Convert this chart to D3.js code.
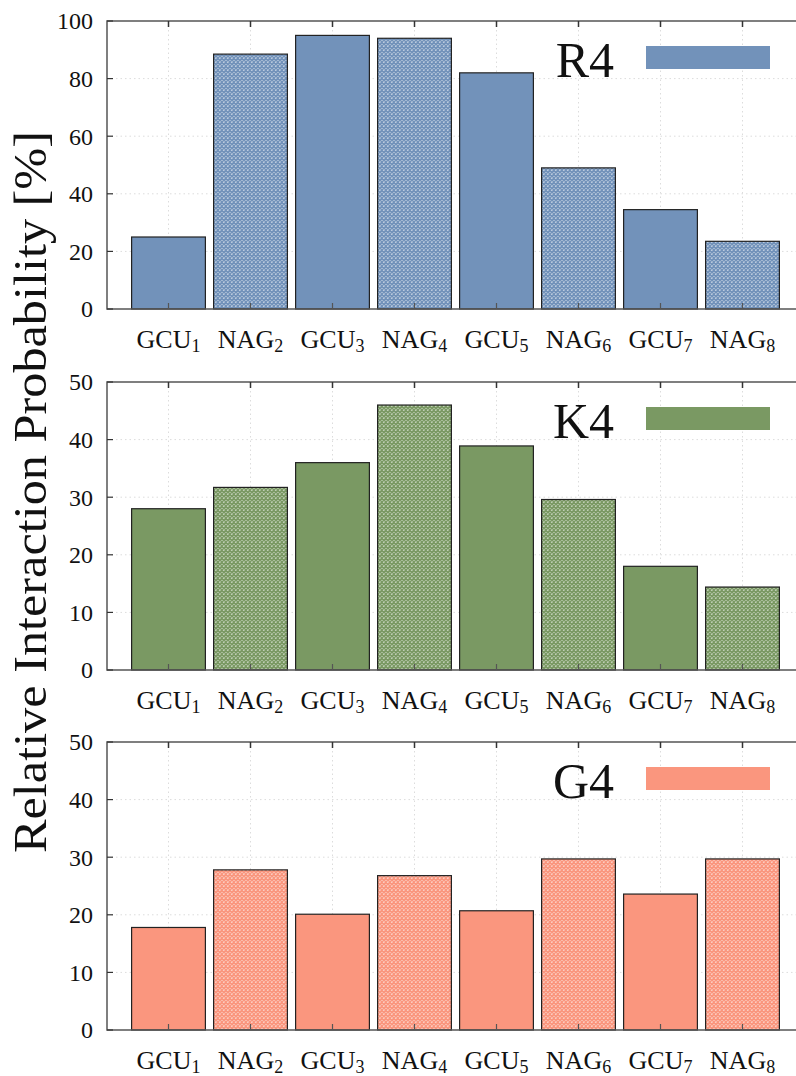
<!DOCTYPE html>
<html>
<head>
<meta charset="utf-8">
<script src="https://cdn.jsdelivr.net/npm/d3@7"></script>
<style>
  body { margin: 0; background: #fff; }
  text { font-family: "Liberation Serif", "DejaVu Serif", serif; fill: #111; }
</style>
</head>
<body>
<svg id="chart"></svg>
<script>
const categories = ["GCU", "NAG", "GCU", "NAG", "GCU", "NAG", "GCU", "NAG"];
const subscripts = ["1", "2", "3", "4", "5", "6", "7", "8"];
const r4Values = [25, 88.5, 95, 94, 82, 49, 34.5, 23.5];
const k4Values = [28, 31.7, 36, 46, 38.9, 29.6, 18, 14.4];
const g4Values = [17.8, 27.8, 20.1, 26.8, 20.7, 29.7, 23.6, 29.7];
const r4Ticks = [0, 20, 40, 60, 80, 100];
const k4Ticks = [0, 10, 20, 30, 40, 50];
const g4Ticks = [0, 10, 20, 30, 40, 50];

const panels = [
  {name: "R4", values: r4Values, ticks: r4Ticks, max: 100, color: "#7292ba", top: 21},
  {name: "K4", values: k4Values, ticks: k4Ticks, max: 50, color: "#7a9963", top: 382},
  {name: "G4", values: g4Values, ticks: g4Ticks, max: 50, color: "#fa967e", top: 742}
];

const W = 796, H = 1076;
const plotLeft = 107, plotRight = 804, plotH = 288;

const svg = d3.select("#chart").attr("width", W).attr("height", H);
const defs = svg.append("defs");

const x = d3.scaleLinear().domain([-0.75, 7.75]).range([plotLeft, plotRight]);
const barW = x(0.9) - x(0);

panels.forEach((p, pi) => {
  // crosshatch pattern
  const pat = defs.append("pattern")
    .attr("id", "hatch" + pi)
    .attr("patternUnits", "userSpaceOnUse")
    .attr("width", 4).attr("height", 4);
  pat.append("rect").attr("width", 4).attr("height", 4).attr("fill", "#fff");
  pat.append("path")
    .attr("d", "M0,0L4,4M4,0L0,4M-1,3L1,5M3,-1L5,1M-1,1L1,-1M3,5L5,3")
    .attr("stroke", p.color).attr("stroke-width", 1.6);

  const y = d3.scaleLinear().domain([0, p.max]).range([p.top + plotH, p.top]);
  const g = svg.append("g");

  // grid
  g.selectAll(".hgrid").data(p.ticks.slice(1, -1)).join("line")
    .attr("x1", plotLeft).attr("x2", plotRight)
    .attr("y1", d => y(d)).attr("y2", d => y(d))
    .attr("stroke", "#dcdcdc").attr("stroke-dasharray", "1.5,3");
  g.selectAll(".vgrid").data(d3.range(8)).join("line")
    .attr("x1", d => x(d)).attr("x2", d => x(d))
    .attr("y1", p.top).attr("y2", p.top + plotH)
    .attr("stroke", "#dcdcdc").attr("stroke-dasharray", "1.5,3");

  // bars
  g.selectAll(".bar").data(p.values).join("rect")
    .attr("x", (d, i) => x(i) - barW / 2)
    .attr("y", d => y(d))
    .attr("width", barW)
    .attr("height", d => y(0) - y(d))
    .attr("fill", (d, i) => i % 2 === 0 ? p.color : "url(#hatch" + pi + ")")
    .attr("stroke", "#222").attr("stroke-width", 1.2);

  // frame
  g.append("path")
    .attr("d", `M${plotRight},${p.top}H${plotLeft}V${p.top + plotH}H${plotRight}`)
    .attr("fill", "none").attr("stroke", "#555").attr("stroke-width", 1.5);

  // ticks
  g.selectAll(".ytick").data(p.ticks).join("line")
    .attr("x1", plotLeft).attr("x2", plotLeft + 6)
    .attr("y1", d => y(d)).attr("y2", d => y(d))
    .attr("stroke", "#333").attr("stroke-width", 1.2);
  g.selectAll(".xtickb").data(d3.range(8)).join("line")
    .attr("x1", d => x(d)).attr("x2", d => x(d))
    .attr("y1", p.top + plotH).attr("y2", p.top + plotH - 6)
    .attr("stroke", "#555").attr("stroke-width", 1.2);
  g.selectAll(".xtickt").data(d3.range(8)).join("line")
    .attr("x1", d => x(d)).attr("x2", d => x(d))
    .attr("y1", p.top).attr("y2", p.top + 6)
    .attr("stroke", "#333").attr("stroke-width", 1.5);

  // y tick labels
  g.selectAll(".ylab").data(p.ticks).join("text")
    .attr("x", 93).attr("y", d => y(d)).attr("dy", "0.35em")
    .attr("text-anchor", "end").attr("font-size", 24)
    .text(d => d);

  // x labels
  const xl = g.selectAll(".xlab").data(categories).join("text")
    .attr("x", (d, i) => x(i)).attr("y", p.top + plotH + 39)
    .attr("text-anchor", "middle").attr("font-size", 26);
  xl.append("tspan").text(d => d);
  xl.append("tspan").attr("font-size", 18).attr("dy", 4).text((d, i) => subscripts[i]);

  // legend
  g.append("text")
    .attr("x", 614).attr("y", p.top + 56)
    .attr("text-anchor", "end").attr("font-size", 50)
    .text(p.name);
  g.append("rect")
    .attr("x", 646).attr("y", p.top + 25)
    .attr("width", 124).attr("height", 23)
    .attr("fill", p.color);
});

svg.append("text")
  .attr("transform", "translate(46,492) rotate(-90)")
  .attr("text-anchor", "middle").attr("font-size", 46)
  .attr("textLength", 722).attr("lengthAdjust", "spacingAndGlyphs")
  .text("Relative Interaction Probability [%]");
</script>
</body>
</html>
